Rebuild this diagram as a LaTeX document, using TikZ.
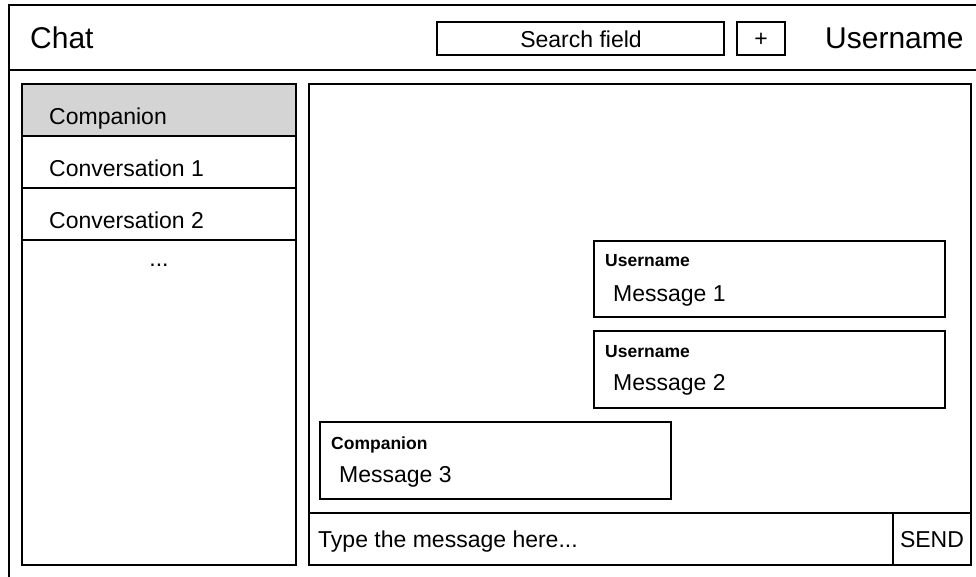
\documentclass[tikz,border=0pt]{standalone}
\usepackage{fontspec}
\setmainfont{Liberation Sans}
\usepackage{xcolor}
\usetikzlibrary{positioning}
\definecolor{selgray}{RGB}{212,212,212}
\tikzset{
  frame/.style={draw=black, line width=2pt, inner sep=0pt, outer sep=0pt, anchor=north west},
  bigtxt/.style={font=\fontsize{30}{36}\selectfont, inner sep=0pt, anchor=base west},
  txt/.style={font=\fontsize{23}{27}\selectfont, inner sep=0pt, anchor=base west},
  lbl/.style={font=\bfseries\fontsize{17.5}{21}\selectfont, inner sep=0pt, anchor=base west}
}

\begin{document}
\begin{tikzpicture}[x=1pt,y=-1pt]
            \useasboundingbox (0,0) rectangle (976,576);
            % window and header bar
            \node[frame, minimum width=990, minimum height=600] (window) at (9,5) {};
            \node[frame, minimum width=990, minimum height=65] (header) at (9,5) {};
            \node[bigtxt] (title) at (30,48) {Chat};
            \node[frame, minimum width=287, minimum height=33] (search) at (437,22) {};
            \node[txt, anchor=base] (searchtxt) at (581,47) {Search field};
            \node[frame, minimum width=48, minimum height=33] (plus) at (737,22) {};
            \node[txt, anchor=base] (plustxt) at (761,46) {+};
            \node[bigtxt] (user) at (825,48) {Username};
            % conversation list
            \node[frame, fill=selgray, minimum width=274, minimum height=52] (row0) at (22,84) {};
            \node[frame, minimum width=274, minimum height=52, below=0pt of row0] (row1) {};
            \node[frame, minimum width=274, minimum height=52, below=0pt of row1] (row2) {};
            \node[frame, minimum width=274, minimum height=325, below=0pt of row2] (rest) {};
            \node[txt] (row0txt) at (49,124) {Companion};
            \node[txt] (row1txt) at (49,176) {Conversation 1};
            \node[txt] (row2txt) at (49,228) {Conversation 2};
            \node[txt, anchor=base] (more) at (159,266) {...};
            % chat panel
            \node[frame, minimum width=662, minimum height=481] (panel) at (309,84) {};
            \node[frame, minimum width=662, minimum height=52] (input) at (309,513) {};
            \node[frame, minimum width=78, minimum height=52] (send) at (893,513) {};
            \node[txt] (inputtxt) at (318,547) {Type the message here...};
            \node[txt, anchor=base] (sendtxt) at (932,547) {SEND};
            % messages
            \node[frame, minimum width=351, minimum height=76] (msg1) at (594,241) {};
            \node[lbl] (msg1from) at (605,266) {Username};
            \node[txt] (msg1txt) at (613,301) {Message 1};
            \node[frame, minimum width=351, minimum height=77] (msg2) at (594,331) {};
            \node[lbl] (msg2from) at (605,357) {Username};
            \node[txt] (msg2txt) at (613,390) {Message 2};
            \node[frame, minimum width=351, minimum height=77] (msg3) at (320,422) {};
            \node[lbl] (msg3from) at (331,449) {Companion};
            \node[txt] (msg3txt) at (339,482) {Message 3};
        \end{tikzpicture}
\end{document}
